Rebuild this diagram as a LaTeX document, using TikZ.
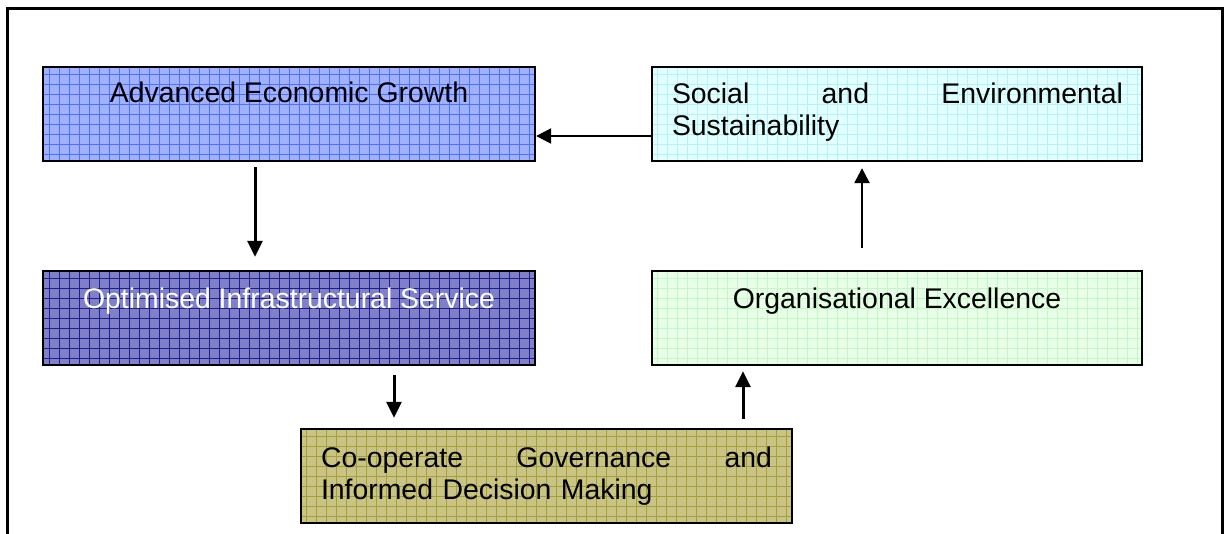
\documentclass[tikz,border=0pt]{standalone}
\usepackage{fontspec}
\setmainfont{Liberation Sans}
\usetikzlibrary{arrows.meta}

\definecolor{advfill}{RGB}{160,178,255}
\definecolor{advgrid}{RGB}{80,112,255}
\definecolor{optfill}{RGB}{128,128,200}
\definecolor{optgrid}{RGB}{30,30,140}
\definecolor{socfill}{RGB}{224,255,255}
\definecolor{socgrid}{RGB}{188,238,245}
\definecolor{orgfill}{RGB}{230,255,230}
\definecolor{orggrid}{RGB}{198,245,198}
\definecolor{coopfill}{RGB}{202,196,132}
\definecolor{coopgrid}{RGB}{165,160,60}

\tikzset{
  goalbox/.style={draw=black, line width=2.3pt, rectangle, inner sep=0pt,
    minimum height=94pt, fill=#1fill,
    path picture={\draw[#1grid, line width=0.9pt]
      (path picture bounding box.south west) grid[step=10pt]
      (path picture bounding box.north east);}},
  boxtext/.style={inner sep=0pt, font=\fontsize{28.4}{32}\selectfont},
  flow/.style={line width=3pt, -{Triangle[length=16pt,width=15pt]}},
  thinflow/.style={line width=2.4pt, -{Triangle[length=15pt,width=15pt]}}
}

\begin{document}
\begin{tikzpicture}[x=1pt,y=-1pt]
\useasboundingbox (0,0) rectangle (1228,534);

% outer frame, open at the bottom
\draw[line width=3pt] (7,540) -- (7,9) -- (1222,9) -- (1222,540);

% goal boxes
\node[goalbox=adv,  minimum width=492pt] (adv)  at (289,114)   {};
\node[goalbox=soc,  minimum width=490pt] (soc)  at (897,114)   {};
\node[goalbox=opt,  minimum width=492pt] (opt)  at (289,318)   {};
\node[goalbox=org,  minimum width=490pt] (org)  at (897,318)   {};
\node[goalbox=coop, minimum width=491pt] (coop) at (546.5,476) {};

% box captions
\node[boxtext, anchor=base] (advtxt) at (289,103) {Advanced Economic Growth};
\node[boxtext, anchor=base, text width=451pt, align=left] (soctxt) at (897.5,104)
  {Social\hfill and\hfill Environmental\\Sustainability};
\node[boxtext, anchor=base, text=white] (opttxt) at (289,309) {Optimised Infrastructural Service};
\node[boxtext, anchor=base] (orgtxt) at (897,309) {Organisational Excellence};
\node[boxtext, anchor=base, text width=451pt, align=left] (cooptxt) at (546.5,467)
  {Co-operate\hfill Governance\hfill and\\Informed Decision Making};

% connectors
\draw[thinflow] ([yshift=-22pt]soc.west) -- ([yshift=-22pt]adv.east);
\draw[flow] ([xshift=-34pt,yshift=-5pt]adv.south) -- ([xshift=-34pt,yshift=13pt]opt.north);
\draw[flow] ([xshift=105pt,yshift=-9pt]opt.south) -- ([xshift=-152.5pt,yshift=10pt]coop.north);
\draw[flow] ([xshift=196.5pt,yshift=9pt]coop.north) -- ([xshift=-154pt,yshift=-5pt]org.south);
\draw[thinflow] ([xshift=-35pt,yshift=22pt]org.north) -- ([xshift=-35pt,yshift=-6pt]soc.south);
\end{tikzpicture}
\end{document}
